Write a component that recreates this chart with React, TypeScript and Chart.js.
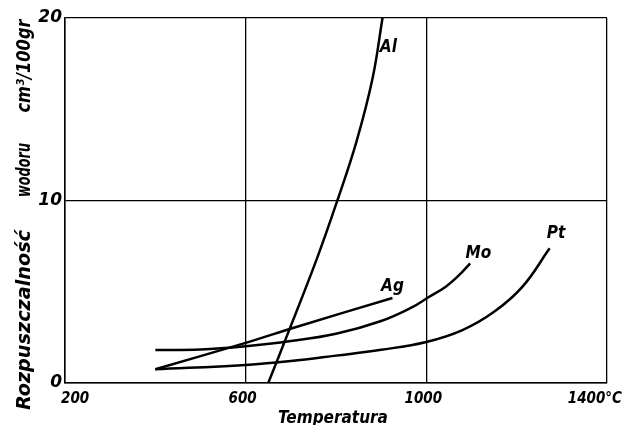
import React, { useEffect, useRef } from "react";
import { Chart, registerables } from "chart.js";

Chart.register(...registerables);

// ---- data ----
const xTicks = [200, 600, 1000, 1400];
const xTickLabels = ["200", "600", "1000", "1400°C"];
const yTicks = [0, 10, 20];
const yTickLabels = ["0", "10", "20"];

const alT = [650, 690, 759, 803, 845, 881, 903];
const alV = [0, 2.5, 6.9, 10.0, 13.2, 16.7, 20];

const agT = [400, 600, 712, 925];
const agV = [0.75, 2.2, 3.07, 4.66];

const moT = [400, 500, 600, 700, 800, 900, 969, 1003, 1043, 1073, 1097];
const moV = [1.81, 1.84, 2.02, 2.3, 2.7, 3.4, 4.16, 4.67, 5.28, 5.92, 6.56];

const ptT = [400, 600, 700, 800, 900, 1000, 1080, 1150, 1213, 1273];
const ptV = [0.75, 0.99, 1.2, 1.5, 1.82, 2.25, 2.9, 3.9, 5.28, 7.38];

const curveNames = ["Al", "Ag", "Mo", "Pt"];
const curveLabelT = [916, 925, 1115, 1287];
const curveLabelV = [18.4, 5.26, 7.1, 8.2];

const xTitle = "Temperatura";
const yTitleParts = ["Rozpuszczalność", "wodoru", "cm³/100gr"];

const FONT_FAMILY = '"DejaVu Sans Condensed", "DejaVu Sans", sans-serif';

function pts(t: number[], v: number[]) {
  return t.map((x, i) => ({ x, y: v[i] }));
}

const textPlugin = {
  id: "customTexts",
  afterDraw(chart: any) {
    const { ctx, chartArea, scales } = chart;
    const xs = scales.x;
    const ys = scales.y;
    ctx.save();
    ctx.fillStyle = "#000";

    // x tick labels
    ctx.textBaseline = "middle";
    ctx.font = `italic bold 15px ${FONT_FAMILY}`;
    xTicks.forEach((v, i) => {
      const px = xs.getPixelForValue(v);
      let align: CanvasTextAlign = "center";
      let dx = -3;
      if (i === 0) {
        align = "left";
        dx = -4;
      } else if (i === xTicks.length - 1) {
        align = "right";
        dx = 15;
      }
      ctx.textAlign = align;
      ctx.fillText(xTickLabels[i], px + dx, chartArea.bottom + 16);
    });

    // x title
    ctx.font = `italic bold 17px ${FONT_FAMILY}`;
    ctx.textAlign = "center";
    ctx.textBaseline = "top";
    ctx.fillText(xTitle, (chartArea.left + chartArea.right) / 2 - 3, chartArea.bottom + 27);

    // curve labels
    ctx.font = `italic bold 17px ${FONT_FAMILY}`;
    ctx.textAlign = "center";
    ctx.textBaseline = "middle";
    curveNames.forEach((n, i) => {
      ctx.fillText(n, xs.getPixelForValue(curveLabelT[i]), ys.getPixelForValue(curveLabelV[i]));
    });

    // y title (rotated words, stretched to their spans)
    const spans = [
      { c: 320, len: 180 },
      { c: 170, len: 54 },
      { c: 66, len: 93 },
    ];
    ctx.font = `italic bold 19px ${FONT_FAMILY}`;
    ctx.textAlign = "center";
    ctx.textBaseline = "middle";
    yTitleParts.forEach((w, i) => {
      const m = ctx.measureText(w).width;
      ctx.save();
      ctx.translate(25, spans[i].c);
      ctx.rotate(-Math.PI / 2);
      ctx.scale(spans[i].len / m, 1);
      ctx.fillText(w, 0, 0);
      ctx.restore();
    });

    ctx.restore();
  },
};

export default function App() {
  const ref = useRef<HTMLCanvasElement | null>(null);

  useEffect(() => {
    document.body.style.margin = "0";
    const canvas = ref.current;
    if (!canvas) return;
    const lineStyle = {
      borderColor: "#000",
      borderWidth: 2.5,
      pointRadius: 0,
      fill: false,
      tension: 0.4,
    };
    const chart = new Chart(canvas, {
      type: "line",
      data: {
        datasets: [
          { label: "Al", data: pts(alT, alV), ...lineStyle },
          { label: "Ag", data: pts(agT, agV), ...lineStyle },
          { label: "Mo", data: pts(moT, moV), ...lineStyle },
          { label: "Pt", data: pts(ptT, ptV), ...lineStyle },
        ],
      },
      options: {
        animation: false,
        responsive: false,
        maintainAspectRatio: false,
        layout: { padding: { left: 0, right: 15, top: 18, bottom: 0 } },
        plugins: {
          legend: { display: false },
          tooltip: { enabled: false },
        },
        scales: {
          x: {
            type: "linear",
            min: 200,
            max: 1400,
            ticks: { stepSize: 400, display: false },
            grid: { color: "#000", lineWidth: 1.3, drawTicks: false },
            border: { color: "#000", width: 1.5 },
            afterFit: (s: any) => {
              s.height = 42;
              s.paddingLeft = 0;
              s.paddingRight = 0;
            },
          },
          y: {
            type: "linear",
            min: 0,
            max: 20,
            ticks: {
              stepSize: 10,
              padding: 3,
              color: "#000",
              font: { family: '"DejaVu Sans", sans-serif', size: 17, style: "italic", weight: "bold" },
              callback: (v: any) => {
                const i = yTicks.indexOf(Number(v));
                return i >= 0 ? yTickLabels[i] : "";
              },
            },
            grid: { color: "#000", lineWidth: 1.3, drawTicks: false },
            border: { color: "#000", width: 1.5 },
            afterFit: (s: any) => {
              s.width = 65;
              s.paddingTop = 0;
              s.paddingBottom = 0;
            },
          },
        },
      },
      plugins: [textPlugin],
    });
    return () => chart.destroy();
  }, []);

  return <canvas ref={ref} width={622} height={425} style={{ display: "block" }} />;
}
